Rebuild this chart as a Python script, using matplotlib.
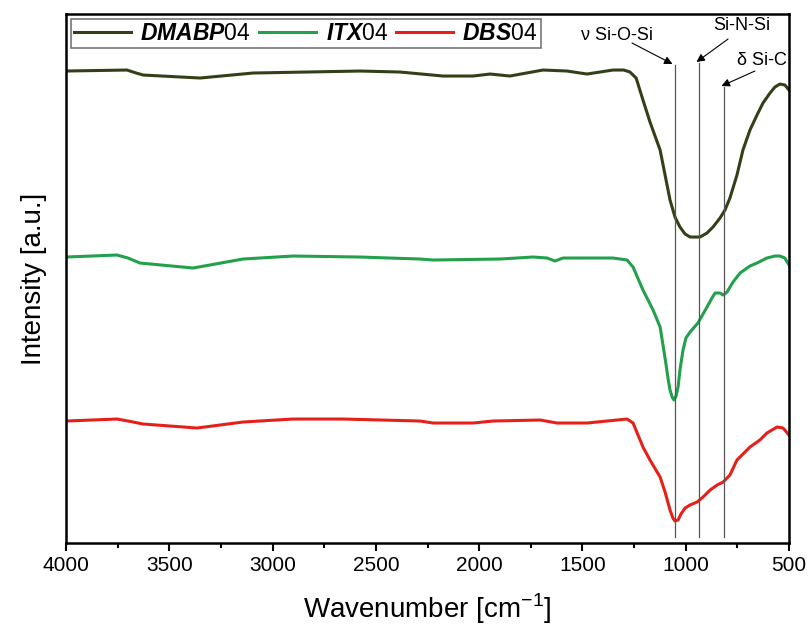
import matplotlib
matplotlib.use("Agg")
import matplotlib.pyplot as plt
from matplotlib.ticker import MultipleLocator

plt.rcParams['font.family'] = ['Liberation Sans', 'DejaVu Sans']
plt.rcParams['mathtext.fontset'] = 'custom'
plt.rcParams['mathtext.bfit'] = 'Liberation Sans:bold:italic'
plt.rcParams['mathtext.rm'] = 'Liberation Sans'

# spectra (wavenumber in cm-1, intensity in a.u.)
wn_dmabp = [4000, 3705, 3660, 3627, 3351, 3095, 2577, 2383, 2175, 2030, 1947, 1851, 1691,
            1575, 1478, 1352, 1300, 1270, 1240, 1207, 1173, 1124, 1100, 1076, 1052, 1028,
            1003, 979, 931, 897, 868, 834, 810, 786, 752, 723, 689, 655, 626, 592, 568,
            544, 520, 500]
i_dmabp = [4.72, 4.73, 4.70, 4.68, 4.65, 4.70, 4.72, 4.71, 4.67, 4.67, 4.69, 4.67, 4.73,
           4.72, 4.69, 4.73, 4.73, 4.71, 4.65, 4.43, 4.21, 3.93, 3.68, 3.43, 3.26, 3.16,
           3.09, 3.06, 3.06, 3.10, 3.16, 3.25, 3.33, 3.45, 3.68, 3.93, 4.13, 4.28, 4.40,
           4.50, 4.56, 4.59, 4.58, 4.53]

wn_itx = [4000, 3753, 3700, 3642, 3385, 3143, 2901, 2577, 2286, 2223, 1899, 1739, 1671,
          1633, 1594, 1352, 1284, 1255, 1207, 1158, 1124, 1110, 1095, 1086, 1076, 1066,
          1057, 1047, 1037, 1028, 1013, 999, 979, 941, 897, 873, 858, 834, 819, 800,
          771, 737, 689, 655, 607, 568, 544, 520, 500]
i_itx = [2.86, 2.88, 2.85, 2.80, 2.75, 2.84, 2.87, 2.86, 2.84, 2.83, 2.84, 2.86, 2.85,
         2.82, 2.85, 2.85, 2.83, 2.76, 2.53, 2.33, 2.16, 1.98, 1.78, 1.65, 1.53, 1.46,
         1.43, 1.47, 1.56, 1.73, 1.93, 2.05, 2.11, 2.20, 2.36, 2.45, 2.50, 2.50, 2.48,
         2.51, 2.61, 2.70, 2.77, 2.80, 2.85, 2.87, 2.87, 2.85, 2.78]

wn_dbs = [4000, 3753, 3700, 3627, 3366, 3143, 2901, 2659, 2286, 2223, 2030, 1933, 1705,
          1623, 1478, 1284, 1255, 1207, 1173, 1124, 1100, 1076, 1062, 1052, 1037, 1023,
          1003, 979, 945, 916, 882, 848, 819, 786, 752, 713, 689, 641, 607, 558, 529, 500]
i_dbs = [1.22, 1.24, 1.22, 1.19, 1.15, 1.21, 1.24, 1.24, 1.22, 1.20, 1.20, 1.22, 1.23,
         1.20, 1.20, 1.24, 1.20, 0.96, 0.83, 0.66, 0.51, 0.33, 0.25, 0.22, 0.23, 0.29,
         0.35, 0.38, 0.41, 0.46, 0.53, 0.58, 0.61, 0.68, 0.83, 0.91, 0.96, 1.03, 1.10,
         1.16, 1.15, 1.08]

labels = [r'$\mathbfit{DMABP}$04', r'$\mathbfit{ITX}$04', r'$\mathbfit{DBS}$04']
colors = ['#333f16', '#22a04b', '#e62018']

# band positions (cm-1), top of marker line, label text
bands = [1052, 936, 815]
band_tops = [4.78, 4.80, 4.56]
band_names = ['ν Si-O-Si', 'Si-N-Si', 'δ Si-C']
text_pos = [(1333, 5.08), (727, 5.18), (631, 4.83)]
arrow_from = [(1260, 5.00), (795, 5.04), (665, 4.72)]

fig = plt.figure(figsize=(8.08, 6.29), dpi=100)
ax = fig.add_axes([0.0817, 0.1367, 0.8948, 0.841])

for wn, it, lab, c in zip([wn_dmabp, wn_itx, wn_dbs], [i_dmabp, i_itx, i_dbs], labels, colors):
    ax.plot(wn, it, color=c, lw=2.2, label=lab, solid_joinstyle='round')

for b, top in zip(bands, band_tops):
    ax.plot([b, b], [0.06, top], color='#555555', lw=0.9)

for name, tp, af, b, top in zip(band_names, text_pos, arrow_from, bands, band_tops):
    ax.text(tp[0], tp[1], name, ha='center', va='center', fontsize=13)
    ax.annotate('', xy=(b + 12, top + 0.01), xytext=af,
                arrowprops=dict(arrowstyle='-|>', color='black', lw=0.8,
                                mutation_scale=12, shrinkA=0, shrinkB=0))

ax.set_xlim(4000, 500)
ax.set_ylim(0, 5.29)
ax.xaxis.set_major_locator(MultipleLocator(500))
ax.xaxis.set_minor_locator(MultipleLocator(250))
ax.tick_params(axis='x', which='major', labelsize=15, length=6, width=1.5, direction='out')
ax.tick_params(axis='x', which='minor', length=3.5, width=1.5, direction='out')
ax.set_yticks([])
for s in ax.spines.values():
    s.set_linewidth(1.8)

ax.set_xlabel(r'Wavenumber [cm$^{-1}$]', fontsize=20, labelpad=12)
ax.set_ylabel('Intensity [a.u.]', fontsize=20, labelpad=14)

leg = ax.legend(loc='upper left', ncol=3, fontsize=16.5, frameon=True, fancybox=False,
                edgecolor='#555555', handlelength=2.5, handletextpad=0.4,
                columnspacing=0.35, borderpad=0.15, borderaxespad=0.2)
leg.get_frame().set_linewidth(1.2)

fig.savefig('out.png', dpi=100)
